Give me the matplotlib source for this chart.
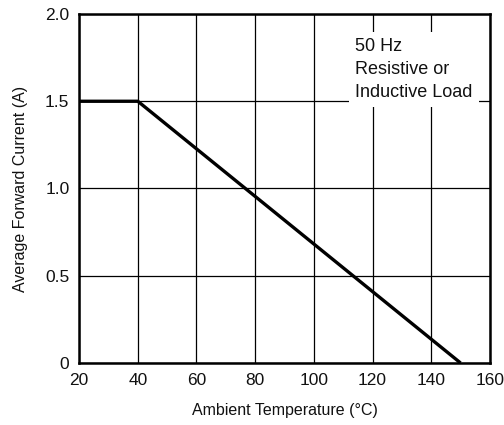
import matplotlib
matplotlib.use("Agg")
import matplotlib.pyplot as plt

plt.rcParams['font.family'] = ['Liberation Sans', 'DejaVu Sans']

# derating curve
temp = [20, 40, 150]
current = [1.5, 1.5, 0.0]

xticks = [20, 40, 60, 80, 100, 120, 140, 160]
yticks = [0, 0.5, 1.0, 1.5, 2.0]
ylabels = ["0", "0.5", "1.0", "1.5", "2.0"]

fig = plt.figure(figsize=(5.04, 4.25), dpi=100)
ax = fig.add_axes([0.157, 0.146, 0.815, 0.821])

ax.plot(temp, current, color="black", lw=2.4, solid_capstyle="butt", zorder=4)

ax.set_xlim(20, 160)
ax.set_ylim(0, 2.0)
ax.set_xticks(xticks)
ax.set_yticks(yticks)
ax.set_yticklabels(ylabels)
ax.grid(True, color="black", lw=0.9)
ax.tick_params(length=0, labelsize=12.5, pad=7, colors="#111111")
for s in ax.spines.values():
    s.set_linewidth(1.8)

ax.set_xlabel("Ambient Temperature (°C)", fontsize=11.5, color="#111111", labelpad=11)
ax.set_ylabel("Average Forward Current (A)", fontsize=11.5, color="#111111", labelpad=12)

ax.text(0.672, 0.93, "50 Hz\nResistive or\nInductive Load", transform=ax.transAxes,
        fontsize=13, va="top", ha="left", linespacing=1.45, color="#111111", zorder=3,
        bbox=dict(facecolor="white", edgecolor="none", pad=4.5))

fig.savefig("out.png", dpi=100)
